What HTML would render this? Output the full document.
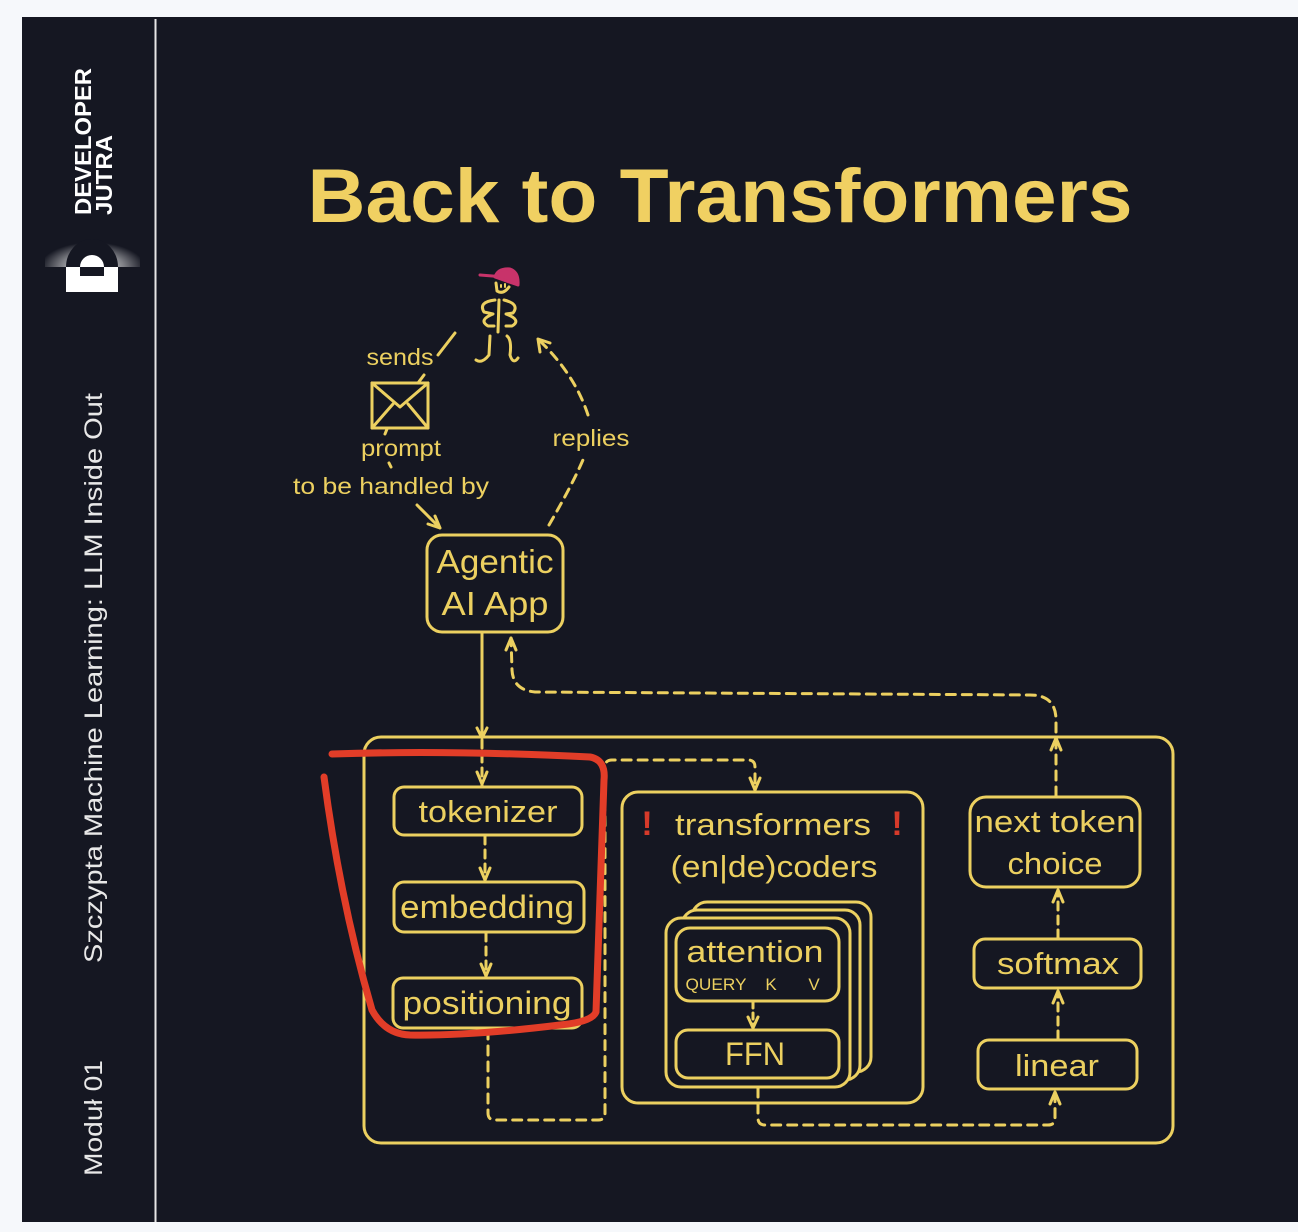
<!DOCTYPE html>
<html><head><meta charset="utf-8"><style>
html,body{margin:0;padding:0;background:#f6f8fb;}
svg{display:block;}
text{font-family:"Liberation Sans","DejaVu Sans",sans-serif;}
</style></head><body>
<svg width="1298" height="1232" viewBox="0 0 1298 1232" xmlns="http://www.w3.org/2000/svg">
<defs>
<radialGradient id="glow" cx="0.5" cy="1" r="0.55">
<stop offset="0" stop-color="#fff" stop-opacity="1"/>
<stop offset="0.6" stop-color="#fff" stop-opacity="0.45"/>
<stop offset="1" stop-color="#fff" stop-opacity="0"/>
</radialGradient>
</defs>
<rect x="0" y="0" width="1298" height="1232" fill="#f6f8fb"/>
<rect x="22" y="17" width="1276" height="1205" fill="#151722"/>
<line x1="155.5" y1="19" x2="155.5" y2="1222" stroke="#e6e6e6" stroke-width="2"/>
<!-- logo -->
<g fill="#fff" font-weight="bold">
<text transform="translate(91,215) rotate(-90)" font-size="23" textLength="147" lengthAdjust="spacingAndGlyphs">DEVELOPER</text>
<text transform="translate(112,215) rotate(-90)" font-size="23" textLength="80" lengthAdjust="spacingAndGlyphs">JUTRA</text>
</g>
<rect x="45" y="222" width="95" height="45" fill="url(#glow)"/>
<path d="M66 267 A26 28 0 0 1 118 267 Z" fill="#151722"/>
<path d="M80 267 A12 12 0 0 1 104 267 Z" fill="#fff"/>
<rect x="66" y="267" width="52" height="25" fill="#fff"/>
<rect x="80" y="267" width="24" height="9" fill="#151722"/>
<text transform="translate(102,963) rotate(-90)" font-size="25" fill="#e8e8e8" textLength="570" lengthAdjust="spacingAndGlyphs">Szczypta Machine Learning: LLM Inside Out</text>
<text transform="translate(102,1176) rotate(-90)" font-size="25" fill="#e8e8e8" textLength="116" lengthAdjust="spacingAndGlyphs">Moduł 01</text>
<!-- title -->
<text x="720" y="222" text-anchor="middle" font-size="76" font-weight="bold" fill="#f0d062" textLength="825" lengthAdjust="spacingAndGlyphs">Back to Transformers</text>
<g stroke="#ecd060" fill="none" stroke-width="3" stroke-linecap="round" stroke-linejoin="round">
<!-- person -->
<path d="M480 275 L505 277" stroke="#c8336a"/>
<path d="M495 277 Q498 268 510 269 Q519 272 518 285 Z" stroke="#c8336a" fill="#c8336a"/>
<path d="M496 283 L497 291 Q503 295 509 287"/>
<path d="M501 285 L501 287 M505 284 L505 287" stroke-width="2"/>
<path d="M495 300 Q478 302 484 312 L493 314 Q478 320 488 326 L494 326"/>
<path d="M504 300 Q520 304 513 313 L506 314 Q522 320 512 326 L506 326"/>
<path d="M499 300 L498 332"/>
<path d="M490 336 L489 355 Q482 364 476 360"/>
<path d="M507 336 Q512 340 510 355 Q513 365 518 358"/>
<!-- sends -->
<path d="M455 333 L438 355"/>
<path d="M424 375 L418 383"/>
<rect x="372" y="383" width="56" height="45"/>
<path d="M372 383 L400 407 L428 383 M372 428 L393 404 M428 428 L408 404"/>
<path d="M387 429 L385 434"/>
<path d="M389 463 L391 467"/>
<path d="M417 505 L440 528 M440 528 L435 516 M440 528 L428 524"/>
<!-- replies -->
<path d="M549 525 Q575 480 585 455" stroke-dasharray="9 7"/>
<path d="M588 415 Q575 375 540 341" stroke-dasharray="9 7"/>
<path d="M538 339 L540 352 M538 339 L550 343"/>
<!-- agentic -->
<rect x="427" y="535" width="136" height="97" rx="15"/>
<line x1="482" y1="632" x2="482" y2="737"/>
<path d="M477 728 L482 738 L487 728" />
<line x1="482" y1="740" x2="482" y2="786" stroke-dasharray="8 6"/>
<path d="M477 772 L482 784 L487 772"/>
<!-- outer -->
<rect x="364" y="737" width="809" height="406" rx="17"/>
<rect x="394" y="787" width="188" height="48" rx="10"/>
<rect x="394" y="882" width="190" height="50" rx="10"/>
<rect x="393" y="978" width="189" height="50" rx="10"/>
<line x1="485" y1="836" x2="485" y2="880" stroke-dasharray="8 6"/>
<path d="M480 868 L485 880 L490 868"/>
<line x1="486" y1="933" x2="486" y2="976" stroke-dasharray="8 6"/>
<path d="M481 964 L486 976 L491 964"/>
<path d="M488 1030 L488 1113 Q488 1120 495 1120 L598 1120 Q605 1120 605 1113 L605 767 Q605 760 612 760 L748 760 Q755 760 755 767 L755 790" stroke-dasharray="9 7"/>
<path d="M750 778 L755 790 L760 778"/>
<!-- transformers -->
<rect x="622" y="792" width="301" height="311" rx="16"/>
<rect x="692" y="902" width="179" height="170" rx="15"/>
<rect x="682" y="910" width="178" height="170" rx="15" fill="#151722"/>
<rect x="666" y="918" width="184" height="169" rx="15" fill="#151722"/>
<rect x="676" y="928" width="163" height="73" rx="14"/>
<rect x="676" y="1030" width="163" height="48" rx="12"/>
<line x1="753" y1="1002" x2="753" y2="1028" stroke-dasharray="6 5"/>
<path d="M748 1017 L753 1028 L758 1017"/>
<path d="M758 1088 L758 1118 Q758 1125 765 1125 L1048 1125 Q1055 1125 1055 1118 L1055 1092" stroke-dasharray="9 7"/>
<path d="M1050 1104 L1055 1092 L1060 1104"/>
<!-- right column -->
<rect x="970" y="797" width="170" height="90" rx="16"/>
<rect x="974" y="939" width="167" height="49" rx="11"/>
<rect x="978" y="1040" width="159" height="49" rx="11"/>
<line x1="1058" y1="1039" x2="1058" y2="991" stroke-dasharray="8 6"/>
<path d="M1053 1003 L1058 991 L1063 1003"/>
<line x1="1058" y1="938" x2="1058" y2="890" stroke-dasharray="8 6"/>
<path d="M1053 902 L1058 890 L1063 902"/>
<path d="M1056 796 L1056 720 Q1056 695 1030 695 L535 692 Q513 690 512 670 L511 638" stroke-dasharray="9 7"/>
<path d="M1051 750 L1056 738 L1061 750"/>
<path d="M506 650 L511 638 L516 650"/>
</g>
<g fill="#ecd060" text-anchor="middle" lengthAdjust="spacingAndGlyphs">
<text x="400" y="365" font-size="23" textLength="67" lengthAdjust="spacingAndGlyphs">sends</text>
<text x="401" y="456" font-size="23" textLength="80" lengthAdjust="spacingAndGlyphs">prompt</text>
<text x="391" y="494" font-size="23" textLength="196" lengthAdjust="spacingAndGlyphs">to be handled by</text>
<text x="591" y="446" font-size="23" textLength="77" lengthAdjust="spacingAndGlyphs">replies</text>
<text x="495" y="573" font-size="33" textLength="117" lengthAdjust="spacingAndGlyphs">Agentic</text>
<text x="495" y="615" font-size="33" textLength="107" lengthAdjust="spacingAndGlyphs">AI App</text>
<text x="488" y="822" font-size="31" textLength="139" lengthAdjust="spacingAndGlyphs">tokenizer</text>
<text x="487" y="918" font-size="32" textLength="174" lengthAdjust="spacingAndGlyphs">embedding</text>
<text x="487" y="1014" font-size="32" textLength="169" lengthAdjust="spacingAndGlyphs">positioning</text>
<text x="773" y="835" font-size="31" textLength="196" lengthAdjust="spacingAndGlyphs">transformers</text>
<text x="774" y="877" font-size="31" textLength="207" lengthAdjust="spacingAndGlyphs">(en|de)coders</text>
<text x="755" y="962" font-size="31" textLength="137" lengthAdjust="spacingAndGlyphs">attention</text>
<text x="716" y="990" font-size="17" textLength="61" lengthAdjust="spacingAndGlyphs">QUERY</text>
<text x="771" y="990" font-size="17">K</text>
<text x="814" y="990" font-size="17">V</text>
<text x="755" y="1065" font-size="32" textLength="60" lengthAdjust="spacingAndGlyphs">FFN</text>
<text x="1055" y="832" font-size="31" textLength="161" lengthAdjust="spacingAndGlyphs">next token</text>
<text x="1055" y="874" font-size="31" textLength="95" lengthAdjust="spacingAndGlyphs">choice</text>
<text x="1058" y="974" font-size="31" textLength="122" lengthAdjust="spacingAndGlyphs">softmax</text>
<text x="1057" y="1076" font-size="31" textLength="84" lengthAdjust="spacingAndGlyphs">linear</text>
</g>
<g fill="#d63a2a" font-weight="bold" font-size="34" text-anchor="middle">
<text x="647" y="835">!</text>
<text x="897" y="835">!</text>
</g>
<path d="M332 754 Q450 750 590 757 Q606 760 604 780 Q600 900 596 1012 Q592 1022 560 1025 Q470 1036 410 1035 Q385 1034 372 1010 Q340 900 324 777" stroke="#e23d28" stroke-width="7" fill="none" stroke-linecap="round" stroke-linejoin="round"/>
</svg>
</body></html>
